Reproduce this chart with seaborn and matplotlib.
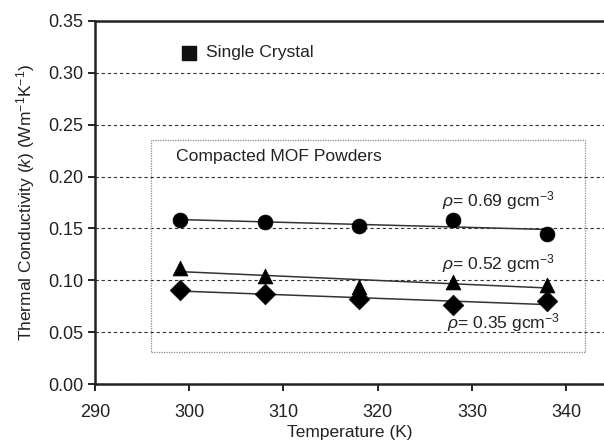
import numpy as np
import pandas as pd
import matplotlib
matplotlib.use("Agg")
import matplotlib.pyplot as plt
from matplotlib.patches import Rectangle
import seaborn as sns

# Measured thermal conductivity of compacted MOF powders
temperature = [299, 308, 318, 328, 338]
k_069 = [0.158, 0.156, 0.152, 0.158, 0.145]
k_052 = [0.112, 0.104, 0.094, 0.098, 0.095]
k_035 = [0.091, 0.087, 0.082, 0.076, 0.080]

series_labels = ["0.69", "0.52", "0.35"]
series_markers = ["o", "^", "D"]
label_positions = [(326.8, 0.177), (326.8, 0.116), (327.4, 0.059)]

x_ticks = [290, 300, 310, 320, 330, 340]
y_ticks = [0.00, 0.05, 0.10, 0.15, 0.20, 0.25, 0.30, 0.35]

sns.set_style("white")
plt.rcParams["font.family"] = ["Liberation Sans", "DejaVu Sans"]
plt.rcParams["mathtext.fontset"] = "custom"
plt.rcParams["mathtext.rm"] = "Liberation Sans"
plt.rcParams["mathtext.it"] = "Liberation Sans:italic"

df = pd.DataFrame({
    "T": temperature * 3,
    "k": k_069 + k_052 + k_035,
    "density": sum([[s] * len(temperature) for s in series_labels], []),
})

fig = plt.figure(figsize=(6.04, 4.43), dpi=100)
ax = fig.add_axes([0.157, 0.133, 0.843, 0.820])

for lab, mk in zip(series_labels, series_markers):
    sub = df[df["density"] == lab]
    sns.regplot(data=sub, x="T", y="k", ax=ax, scatter=False, ci=None,
                line_kws=dict(color="#333333", lw=1.1, zorder=3))
    sns.scatterplot(data=sub, x="T", y="k", ax=ax, marker=mk, color="black",
                    s=115 if mk != "D" else 110, edgecolor="black", linewidth=0.5,
                    zorder=4, legend=False)

ax.set_xlim(290, 344)
ax.set_ylim(0, 0.35)
ax.set_xticks(x_ticks)
ax.set_yticks(y_ticks)
ax.yaxis.set_major_formatter(matplotlib.ticker.FormatStrFormatter("%.2f"))
ax.tick_params(axis="both", labelsize=13, direction="out", length=5,
               width=1.2, color="black", labelcolor="#222222",
               left=True, bottom=True)
ax.tick_params(axis="x", pad=9)
ax.grid(axis="y", linestyle=(0, (3, 2.5)), color="#333333", lw=0.8)
ax.set_axisbelow(True)

for side in ["left", "bottom", "top"]:
    ax.spines[side].set_color("#222222")
    ax.spines[side].set_linewidth(1.8)
ax.spines["right"].set_visible(False)

ax.set_xlabel("Temperature (K)", fontsize=12.5, color="#222222", labelpad=3)
ax.set_ylabel(r"Thermal Conductivity ($k$) (Wm$^{\mathregular{-1}}$K$^{\mathregular{-1}}$)",
              fontsize=12.5, color="#222222", labelpad=8)

# Dotted frame around the powder measurements
ax.add_patch(Rectangle((296, 0.031), 46.0, 0.204, fill=False,
                       linestyle=(0, (1, 1)), edgecolor="#888888", lw=0.9, zorder=2))
ax.text(298.6, 0.219, "Compacted MOF Powders", fontsize=12.6, color="#222222",
        va="center", ha="left")

# Single crystal legend entry
ax.scatter([300.0], [0.319], marker="s", s=115, color="#111111", zorder=4)
ax.text(301.8, 0.319, "Single Crystal", fontsize=12.6, color="#222222",
        va="center", ha="left")

for lab, (lx, ly) in zip(series_labels, label_positions):
    ax.text(lx, ly, r"$\rho$= " + lab + r" gcm$^{\mathregular{-3}}$", fontsize=12.6,
            color="#222222", va="center", ha="left")

fig.savefig("out.png", dpi=100)
